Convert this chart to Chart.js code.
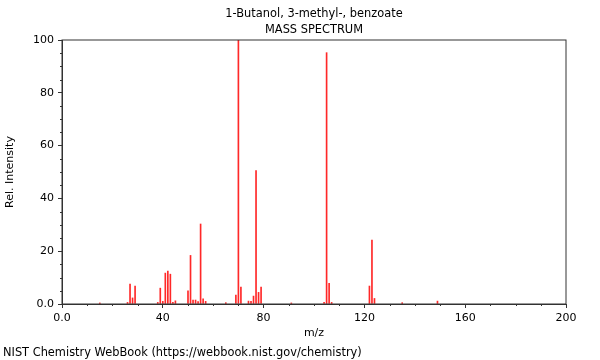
<!DOCTYPE html>
<html>
<head>
<meta charset="utf-8">
<script src="https://cdn.jsdelivr.net/npm/chart.js@4"></script>
<style>
  html, body { margin: 0; padding: 0; background: #fff; }
  #wrap { width: 600px; height: 360px; }
</style>
</head>
<body>
<div id="wrap"><canvas id="chart" width="600" height="360"></canvas></div>
<script>
const titleLines = ['1-Butanol, 3-methyl-, benzoate', 'MASS SPECTRUM'];
const footerText = 'NIST Chemistry WebBook (https://webbook.nist.gov/chemistry)';

// peaks
const mz = [15, 26, 27, 28, 29, 38, 39, 40, 41, 42, 43, 44, 45, 50, 51, 52, 53, 54, 55, 56, 57,
  65, 69, 70, 71, 74, 75, 76, 77, 78, 79, 91, 104, 105, 106, 107, 122, 123, 124, 135, 149];
const intensity = [0.4, 0.6, 7.5, 2.3, 6.8, 0.6, 6.0, 1.0, 11.7, 12.5, 11.3, 0.6, 1.2, 5.0, 18.4, 1.5, 1.5, 0.9, 30.3, 2.0, 1.0,
  0.5, 3.4, 100, 6.4, 1.1, 1.0, 3.0, 50.5, 4.4, 6.4, 0.4, 0.6, 95.2, 7.8, 0.6, 6.8, 24.2, 2.1, 0.5, 1.1];

const xTicks = [0, 40, 80, 120, 160, 200];
const yTicks = [0, 20, 40, 60, 80, 100];

const FONT = 'DejaVu Sans';
const axisColor = '#333';

// minor ticks, frame and texts
const decorations = {
  id: 'decorations',
  afterDraw(chart) {
    const { ctx, chartArea: a, scales } = chart;
    ctx.save();
    ctx.strokeStyle = axisColor;
    ctx.lineWidth = 1;
    ctx.strokeRect(a.left, a.top, a.right - a.left, a.bottom - a.top);

    ctx.beginPath();
    for (let v = 0; v <= 200; v += 10) {
      if (v % 40 === 0) continue;
      const x = Math.round(scales.x.getPixelForValue(v)) + 0.5;
      ctx.moveTo(x, a.bottom);
      ctx.lineTo(x, a.bottom + 2);
    }
    for (let v = 0; v <= 100; v += 5) {
      if (v % 20 === 0) continue;
      const y = Math.round(scales.y.getPixelForValue(v)) + 0.5;
      ctx.moveTo(a.left, y);
      ctx.lineTo(a.left - 2, y);
    }
    ctx.stroke();

    ctx.fillStyle = '#000';
    ctx.font = `11.4px "${FONT}"`;
    ctx.textBaseline = 'middle';
    ctx.textAlign = 'center';
    const cx = (a.left + a.right) / 2;
    ctx.fillText(titleLines[0], cx, 14);
    ctx.fillText(titleLines[1], cx, 30);
    ctx.textAlign = 'left';
    ctx.fillText(footerText, 3, 353);
    ctx.restore();
  }
};

new Chart(document.getElementById('chart'), {
  type: 'bar',
  data: {
    datasets: [{
      data: mz.map((m, i) => ({ x: m, y: intensity[i] })),
      backgroundColor: 'rgb(255, 40, 40)',
      borderWidth: 0,
      barThickness: 1,
      grouped: false
    }]
  },
  options: {
    responsive: false,
    animation: false,
    layout: { padding: { top: 40, right: 34, left: 0, bottom: 0 } },
    plugins: { legend: { display: false }, tooltip: { enabled: false } },
    scales: {
      x: {
        type: 'linear',
        min: 0, max: 200,
        offset: false,
        afterFit: s => { s.height = 56; },
        afterBuildTicks: s => { s.ticks = xTicks.map(v => ({ value: v })); },
        ticks: {
          color: '#000', padding: 4,
          font: { family: FONT, size: 11 },
          callback: v => v === 0 ? '0.0' : String(v),
          maxRotation: 0, autoSkip: false
        },
        grid: { drawOnChartArea: false, offset: false, tickLength: 4, color: axisColor, tickColor: axisColor },
        border: { color: axisColor },
        title: { display: true, text: 'm/z', color: '#000', padding: 20, font: { family: FONT, size: 11 } }
      },
      y: {
        min: 0, max: 100,
        afterFit: s => { s.width = 62; },
        afterBuildTicks: s => { s.ticks = yTicks.map(v => ({ value: v })); },
        ticks: {
          color: '#000', padding: 4,
          font: { family: FONT, size: 11 },
          callback: v => v === 0 ? '0.0' : String(v),
          autoSkip: false
        },
        grid: { drawOnChartArea: false, tickLength: 4, color: axisColor, tickColor: axisColor },
        border: { color: axisColor },
        title: { display: true, text: 'Rel. Intensity', color: '#000', padding: 4, font: { family: FONT, size: 11 } }
      }
    }
  },
  plugins: [decorations]
});
</script>
</body>
</html>
